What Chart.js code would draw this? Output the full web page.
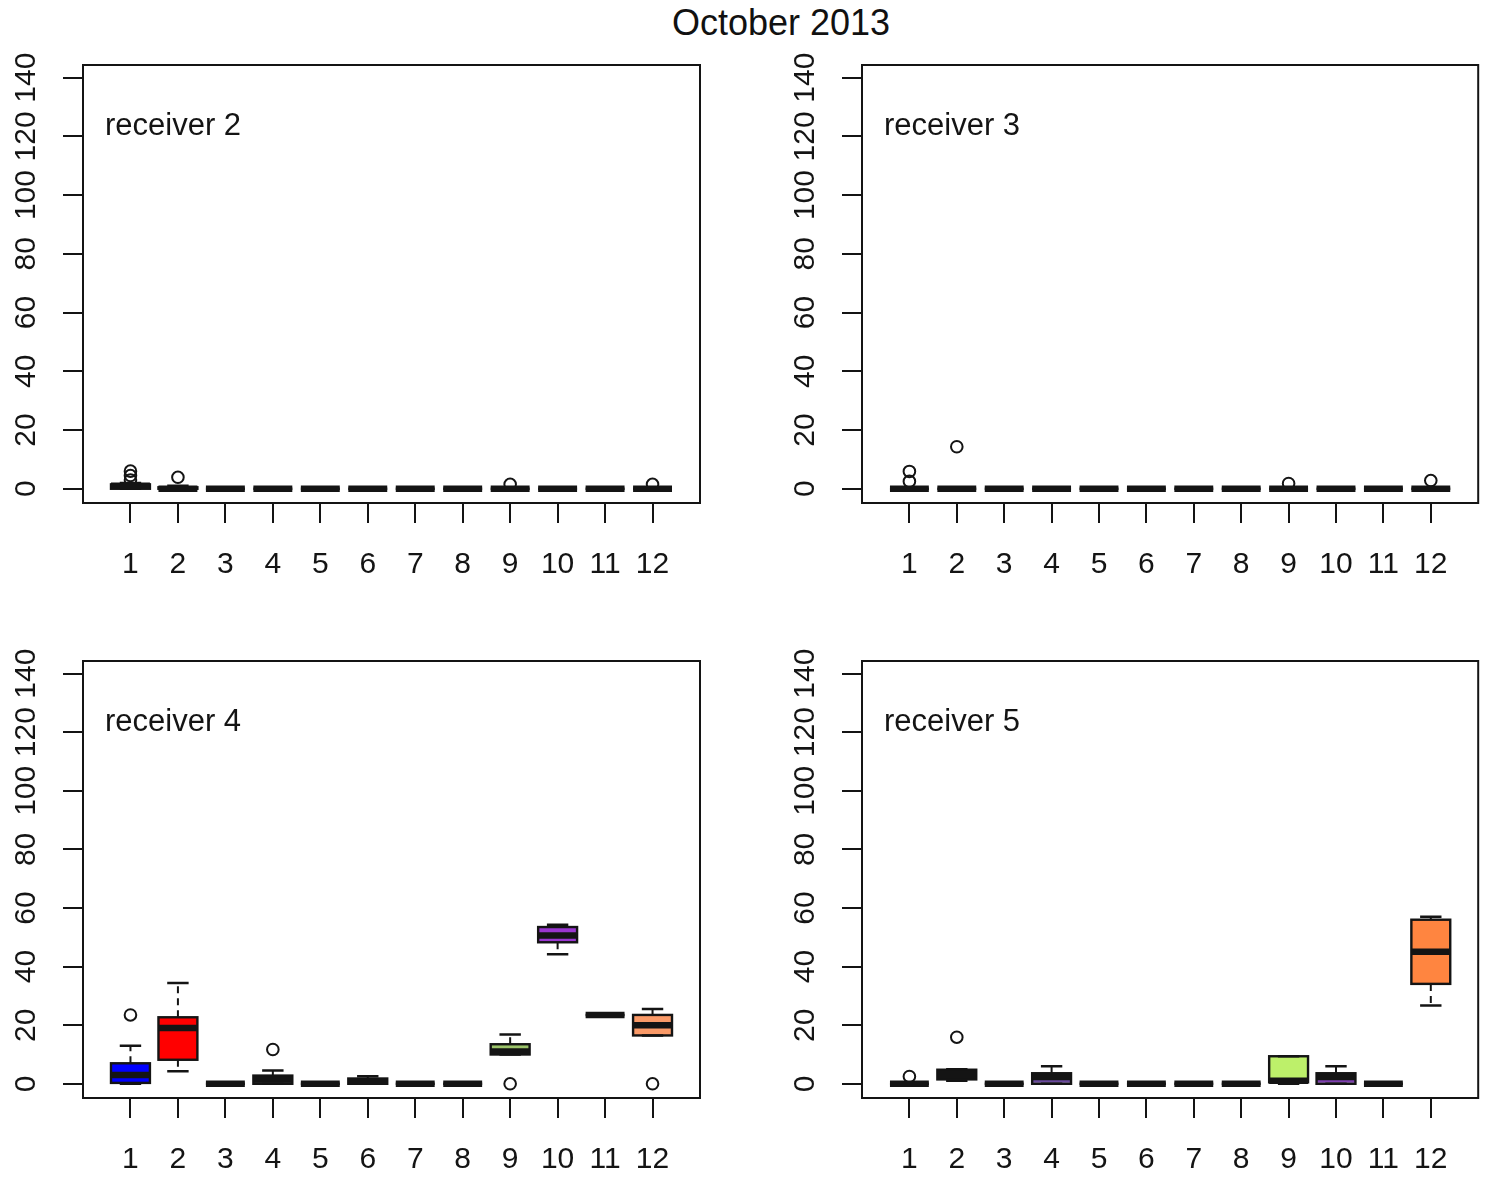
<!DOCTYPE html>
<html>
<head>
<meta charset="utf-8">
<script src="https://cdn.jsdelivr.net/npm/chart.js@4.4.1/dist/chart.umd.min.js"></script>
<style>
  html, body { margin: 0; padding: 0; background: #fff; }
  #page { position: relative; width: 1486px; height: 1184px; overflow: hidden; background: #fff; }
  #title { position: absolute; left: 0; width: 1562px; top: 3px; text-align: center;
           font: 36px "Liberation Sans", Arial, sans-serif; color: #111; line-height: 40px; }
  .panel { position: absolute; }
</style>
</head>
<body>
<div id="page">
  <div id="title">October 2013</div>
  <div class="panel" style="left:0px;top:0px;width:743px;height:600px"><canvas id="c2"></canvas></div>
  <div class="panel" style="left:743px;top:0px;width:743px;height:600px"><canvas id="c3"></canvas></div>
  <div class="panel" style="left:0px;top:595px;width:743px;height:589px"><canvas id="c4"></canvas></div>
  <div class="panel" style="left:743px;top:595px;width:743px;height:589px"><canvas id="c5"></canvas></div>
</div>
<script>
// ---------- data ----------
const months = ['1','2','3','4','5','6','7','8','9','10','11','12'];
const yTicks = [0, 20, 40, 60, 80, 100, 120, 140];
const receivers = ['receiver 2', 'receiver 3', 'receiver 4', 'receiver 5'];

// receiver 2
const r2Low  = [0, 0, 0, 0, 0, 0, 0, 0, 0, 0, 0, 0];
const r2Q1   = [0, 0, 0, 0, 0, 0, 0, 0, 0, 0, 0, 0];
const r2Med  = [1, 0, 0, 0, 0, 0, 0, 0, 0, 0, 0, 0];
const r2Q3   = [1.5, 0.5, 0, 0, 0, 0, 0, 0, 0, 0, 0, 0];
const r2High = [2, 1, 0, 0, 0, 0, 0, 0, 0, 0, 0, 0];
const r2Out  = [[3, 4.5, 6], [3.9], [], [], [], [], [], [], [1.5], [], [], [1.5]];

// receiver 3
const r3Low  = [0, 0, 0, 0, 0, 0, 0, 0, 0, 0, 0, 0];
const r3Q1   = [0, 0, 0, 0, 0, 0, 0, 0, 0, 0, 0, 0];
const r3Med  = [0, 0, 0, 0, 0, 0, 0, 0, 0, 0, 0, 0];
const r3Q3   = [0, 0, 0, 0, 0, 0, 0, 0, 0, 0, 0, 0];
const r3High = [0, 0, 0, 0, 0, 0, 0, 0, 0, 0, 0, 0];
const r3Out  = [[2.5, 5.9], [14.3], [], [], [], [], [], [], [1.8], [], [], [2.8]];

// receiver 4
const r4Low  = [0, 4.3, 0, 0, 0, 0, 0, 0, 10, 44.2, 23.5, 16.5];
const r4Q1   = [0.3, 8.2, 0, 0, 0, 0, 0, 0, 10, 48.3, 23.5, 16.5];
const r4Med  = [3, 19, 0, 1.5, 0, 0.7, 0, 0, 11, 50.6, 23.5, 20];
const r4Q3   = [7, 22.7, 0, 2.8, 0, 1.8, 0, 0, 13.5, 53.5, 23.5, 23.5];
const r4High = [13, 34.4, 0, 4.5, 0, 2.6, 0, 0, 16.8, 54.3, 23.5, 25.5];
const r4Out  = [[23.5], [], [], [11.7], [], [], [], [], [0], [], [], [0]];

// receiver 5
const r5Low  = [0, 1, 0, 0, 0, 0, 0, 0, 0, 0, 0, 26.7];
const r5Q1   = [0, 1.5, 0, 0, 0, 0, 0, 0, 0.5, 0, 0, 34.1];
const r5Med  = [0, 3.5, 0, 2.3, 0, 0, 0, 0, 1, 2.3, 0, 45.1];
const r5Q3   = [0, 4.8, 0, 3.6, 0, 0, 0, 0, 9.4, 3.6, 0, 56];
const r5High = [0, 5, 0, 6, 0, 0, 0, 0, 9.4, 6, 0, 57];
const r5Out  = [[2.5], [15.9], [], [], [], [], [], [], [], [], [], []];

// ---------- styles ----------
const r2Colors = Array(12).fill('#141414');
const r3Colors = Array(12).fill('#141414');
const r4Colors = ['#0000FF', '#FF0000', '#141414', '#141414', '#141414', '#141414',
                  '#141414', '#141414', '#9CC46A', '#9A36D0', '#141414', '#FA9A68'];
const r5Colors = ['#141414', '#141414', '#141414', '#6A4A9E', '#141414', '#141414',
                  '#141414', '#141414', '#BDF06A', '#7E3FB0', '#141414', '#FF8540'];
const FONT = '"Liberation Sans", Arial, sans-serif';
const INK = '#141414';

const panels = [
  { id: 'c2', name: receivers[0], lo: r2Low, q1: r2Q1, med: r2Med, q3: r2Q3, hi: r2High, out: r2Out,
    colors: r2Colors, pad: { left: 0, right: 43, top: 65 }, xH: 97 },
  { id: 'c3', name: receivers[1], lo: r3Low, q1: r3Q1, med: r3Med, q3: r3Q3, hi: r3High, out: r3Out,
    colors: r3Colors, pad: { left: 36, right: 6, top: 65 }, xH: 97 },
  { id: 'c4', name: receivers[2], lo: r4Low, q1: r4Q1, med: r4Med, q3: r4Q3, hi: r4High, out: r4Out,
    colors: r4Colors, pad: { left: 0, right: 43, top: 66 }, xH: 86 },
  { id: 'c5', name: receivers[3], lo: r5Low, q1: r5Q1, med: r5Med, q3: r5Q3, hi: r5High, out: r5Out,
    colors: r5Colors, pad: { left: 36, right: 6, top: 66 }, xH: 86 }
];

const boxPlugin = {
  id: 'boxplot',
  afterDatasetsDraw(chart, args, opts) {
    const p = opts.panel;
    const { ctx, chartArea: a } = chart;
    const xs = chart.scales.x, ys = chart.scales.y;
    const bars = chart.getDatasetMeta(0).data;
    ctx.save();
    ctx.strokeStyle = INK;
    for (let i = 0; i < months.length; i++) {
      const cx = xs.getPixelForValue(i + 1);
      const half = bars[i].width / 2;
      const yq1 = ys.getPixelForValue(p.q1[i]);
      const yq3 = ys.getPixelForValue(p.q3[i]);
      const ylo = ys.getPixelForValue(p.lo[i]);
      const yhi = ys.getPixelForValue(p.hi[i]);
      const ymed = ys.getPixelForValue(p.med[i]);
      // whiskers (dashed)
      ctx.lineWidth = 2;
      ctx.setLineDash([7, 5]);
      ctx.beginPath();
      if (p.hi[i] > p.q3[i]) { ctx.moveTo(cx, yq3); ctx.lineTo(cx, yhi); }
      if (p.lo[i] < p.q1[i]) { ctx.moveTo(cx, yq1); ctx.lineTo(cx, ylo); }
      ctx.stroke();
      ctx.setLineDash([]);
      // staples
      ctx.lineWidth = 2.5;
      ctx.beginPath();
      const sw = half * 0.55;
      ctx.moveTo(cx - sw, yhi); ctx.lineTo(cx + sw, yhi);
      ctx.moveTo(cx - sw, ylo); ctx.lineTo(cx + sw, ylo);
      ctx.stroke();
      // box outline (visible even when flat)
      ctx.lineWidth = 2.4;
      ctx.strokeRect(cx - half, yq3, half * 2, yq1 - yq3);
      // median
      ctx.lineWidth = 6.5;
      ctx.lineCap = 'butt';
      ctx.beginPath();
      ctx.moveTo(cx - half, ymed); ctx.lineTo(cx + half, ymed);
      ctx.stroke();
    }
    // plot frame
    ctx.lineWidth = 2;
    ctx.strokeRect(a.left, a.top, a.right - a.left, a.bottom - a.top);
    // tick labels
    ctx.fillStyle = INK;
    ctx.font = '30px ' + FONT;
    ctx.textAlign = 'center';
    ctx.textBaseline = 'middle';
    months.forEach((m, i) => {
      ctx.fillText(m, xs.getPixelForValue(i + 1), a.bottom + 62);
    });
    yTicks.forEach(v => {
      ctx.save();
      ctx.translate(a.left - 56, ys.getPixelForValue(v));
      ctx.rotate(-Math.PI / 2);
      ctx.fillText(String(v), 0, 0);
      ctx.restore();
    });
    // panel label
    ctx.font = '31px ' + FONT;
    ctx.textAlign = 'left';
    ctx.fillText(p.name, a.left + 22, a.top + 61);
    ctx.restore();
  }
};

panels.forEach(p => {
  const boxData = months.map((m, i) => ({ x: i + 1, y: [p.q1[i], p.q3[i]] }));
  const outData = [];
  p.out.forEach((arr, i) => arr.forEach(v => outData.push({ x: i + 1, y: v })));
  new Chart(document.getElementById(p.id), {
    type: 'bar',
    data: {
      datasets: [
        {
          type: 'bar',
          data: boxData,
          backgroundColor: p.colors,
          borderColor: INK,
          borderWidth: 0,
          borderSkipped: false,
          barPercentage: 0.82,
          categoryPercentage: 1.0,
          order: 2
        },
        {
          type: 'scatter',
          data: outData,
          pointStyle: 'circle',
          pointRadius: 5.8,
          pointBorderWidth: 2,
          pointBorderColor: INK,
          pointBackgroundColor: 'rgba(0,0,0,0)',
          order: 1
        }
      ]
    },
    options: {
      responsive: true,
      maintainAspectRatio: false,
      animation: false,
      events: [],
      layout: { padding: { left: p.pad.left, right: p.pad.right, top: p.pad.top, bottom: 0 } },
      plugins: { legend: { display: false }, tooltip: { enabled: false }, title: { display: false },
                 boxplot: { panel: p } },
      scales: {
        x: {
          type: 'linear',
          min: 0.0, max: 13.0,
          offset: false,
          afterBuildTicks: s => { s.ticks = months.map((m, i) => ({ value: i + 1 })); },
          afterFit: s => { s.height = p.xH; },
          ticks: { display: false },
          grid: { display: true, offset: false, drawOnChartArea: false, drawTicks: true, tickLength: 20,
                  color: INK, lineWidth: 2 },
          border: { display: false }
        },
        y: {
          type: 'linear',
          min: -4.85, max: 144.3,
          afterBuildTicks: s => { s.ticks = yTicks.map(v => ({ value: v })); },
          afterFit: s => { s.width = 83; },
          ticks: { display: false },
          grid: { display: true, offset: false, drawOnChartArea: false, drawTicks: true, tickLength: 20,
                  color: INK, lineWidth: 2 },
          border: { display: false }
        }
      }
    },
    plugins: [boxPlugin]
  });
});
</script>
</body>
</html>
